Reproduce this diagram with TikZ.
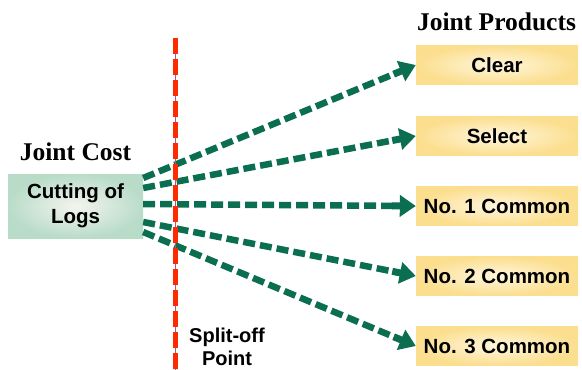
\documentclass[tikz,border=0pt]{standalone}
\usepackage{fontspec}
\setmainfont{Liberation Serif}
\setsansfont{Liberation Sans}
\usetikzlibrary{arrows.meta,calc}
\definecolor{flowgreen}{HTML}{0B6E50}
\definecolor{costfill}{HTML}{B9DCC9}
\definecolor{costcore}{HTML}{F4F4EE}
\definecolor{prodfill}{HTML}{FBDE8E}
\definecolor{prodcore}{HTML}{FFF6DE}
\definecolor{splitred}{HTML}{FF2A00}
\definecolor{splitthread}{HTML}{9A5C9E}
\tikzset{
  boxtext/.style={font=\fontsize{20.5}{25}\selectfont\sffamily\bfseries, text=black, align=center},
  costbox/.style={boxtext, rectangle, minimum width=135pt, minimum height=64pt, inner sep=0pt,
    shading=radial, outer color=costfill, inner color=costcore},
  prodbox/.style={boxtext, rectangle, minimum width=162pt, minimum height=39pt, inner sep=0pt,
    shading=radial, outer color=prodfill, inner color=prodcore},
  heading/.style={font=\fontsize{25.5}{28}\selectfont\rmfamily\bfseries, anchor=base},
  flow/.style={draw=flowgreen, line width=6.5pt, dash pattern=on 12pt off 5pt},
  flowtip/.style={draw=flowgreen, line width=7pt, -{Triangle[length=16pt,width=21pt]}},
  splitline/.style={draw=splitred, line width=5pt, dash pattern=on 16pt off 5pt},
  splitcore/.style={draw=splitthread, line width=1pt}
}
\begin{document}
\begin{tikzpicture}[x=1pt,y=-1pt]
\useasboundingbox (0,0) rectangle (582,370);

% headings
\node[heading] (costhead) at (75.5,160) {Joint Cost};
\node[heading] (prodhead) at (496.5,30) {Joint Products};

% joint cost box
\node[costbox] (logs) at (75.5,206) {Cutting of\\Logs};

% joint product boxes
\node[prodbox] (clear)  at (497,65)  {Clear};
\node[prodbox] (select) at (497,136) {Select};
\node[prodbox] (nocom1) at (497,206) {No. 1 Common};
\node[prodbox] (nocom2) at (497,276) {No. 2 Common};
\node[prodbox] (nocom3) at (497,346) {No. 3 Common};

% start points on the joint cost box
\coordinate (out1) at ([yshift=28pt]logs.east);
\coordinate (out2) at ([yshift=18pt]logs.east);
\coordinate (out3) at ([yshift=2pt]logs.east);
\coordinate (out4) at ([yshift=-16pt]logs.east);
\coordinate (out5) at ([yshift=-26pt]logs.east);

% dashed flows with a solid shaft and head at the product end
\foreach \src/\dst in {out1/clear, out2/select, out3/nocom1, out4/nocom2, out5/nocom3} {
  \draw[flow] (\src) -- ($(\dst.west)!22pt!(\src)$);
  \draw[flowtip] ($(\dst.west)!24pt!(\src)$) -- (\dst.west);
}

% split-off line
\coordinate (splittop) at (175.5,38);
\coordinate (splitbot) at (175.5,372);
\draw[splitcore] (splittop) -- (splitbot);
\draw[splitline] (splittop) -- (splitbot);

\node[boxtext, font=\fontsize{20}{23}\selectfont\sffamily\bfseries] (splitlabel) at (227,347) {Split-off\\Point};
\end{tikzpicture}
\end{document}
